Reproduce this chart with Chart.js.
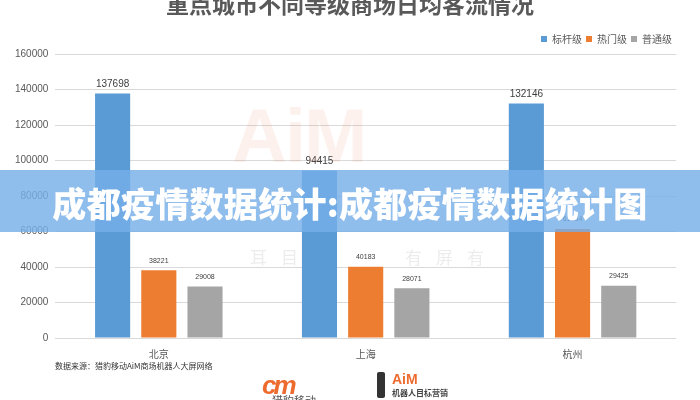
<!DOCTYPE html>
<html>
<head>
<meta charset="utf-8">
<script src="https://cdn.jsdelivr.net/npm/chart.js@4"></script>
<style>
  html, body { margin: 0; padding: 0; background: #fff; }
  #wrap { position: relative; width: 700px; height: 400px; overflow: hidden; font-family: "Noto Sans CJK SC", "Noto Sans", sans-serif; }
  #myChart { position: absolute; left: 0; top: 0; }
  .title { position: absolute; left: 0; width: 700px; top: -14px; text-align: center; font-size: 23px; font-weight: 700; color: #595959; }
  .mark { position: absolute; left: 232px; top: 92px; font: 900 76px "Liberation Sans", sans-serif; color: rgba(235, 120, 90, 0.10); letter-spacing: -2px; }
  .mark2 { position: absolute; left: 250px; top: 244px; font-size: 17px; color: rgba(120, 120, 120, 0.14); letter-spacing: 14px; }
  .banner { position: absolute; left: 0; top: 170px; width: 700px; height: 62px; background: rgba(118, 174, 232, 0.82); }
  .banner span { position: absolute; left: 0; width: 700px; top: 8px; text-align: center; color: #fff; font-size: 34px; font-weight: 900; letter-spacing: 0.3px; }
  .source { position: absolute; left: 55px; top: 360px; font-size: 8px; color: #333; }
  .cmlogo { position: absolute; left: 262px; top: 370px; font: italic 900 26px "Liberation Sans", sans-serif; color: #ee6b2f; letter-spacing: -3px; }
  .cmname { position: absolute; left: 272px; top: 392px; font-size: 11px; color: #555; }
  .robot { position: absolute; left: 377px; top: 372px; width: 8px; height: 26px; background: #333; border-radius: 2px; }
  .aim { position: absolute; left: 392px; top: 371px; font: 700 14px "Liberation Sans", sans-serif; color: #ee6b2f; }
  .aimtxt { position: absolute; left: 392px; top: 387px; font-size: 8px; font-weight: 700; color: #444; }
</style>
</head>
<body>
<div id="wrap">
  <canvas id="myChart" width="700" height="400"></canvas>
  <div class="title">重点城市不同等级商场日均客流情况</div>
  <div class="mark">AiM</div>
  <div class="mark2">耳目　　　有屏有</div>
  <div class="banner"><span>成都疫情数据统计:成都疫情数据统计图</span></div>
  <div class="source">数据来源：猎豹移动AiM商场机器人大屏网络</div>
  <div class="cmlogo">cm</div>
  <div class="cmname">猎豹移动</div>
  <div class="robot"></div>
  <div class="aim">AiM</div>
  <div class="aimtxt">机器人目标营销</div>
</div>
<script>
const labels_city = ["北京", "上海", "杭州"];
const dataBiaogan = [137698, 94415, 132146];
const dataRemen = [38221, 40183, 61454];
const dataPutong = [29008, 28071, 29425];

// numbers over the bars
const barLabels = {
  id: 'barLabels',
  afterDatasetsDraw(chart) {
    const ctx = chart.ctx;
    ctx.save();
    ctx.textAlign = 'center';
    ctx.textBaseline = 'bottom';
    chart.data.datasets.forEach(function (ds, i) {
      const meta = chart.getDatasetMeta(i);
      ctx.fillStyle = '#404040';
      ctx.font = (i == 0 ? '10px' : '7px') + ' "Liberation Sans", sans-serif';
      meta.data.forEach(function (bar, j) {
        ctx.fillText(ds.data[j], bar.x, bar.y - (i == 0 ? 4 : 6));
      });
    });
    ctx.restore();
  }
};

const data = {
  labels: labels_city,
  datasets: [
    {
      label: '标杆级',
      data: dataBiaogan,
      backgroundColor: '#5b9bd5'
    }, {
      label: '热门级',
      data: dataRemen,
      backgroundColor: '#ed7d31'
    }, {
      label: '普通级',
      data: dataPutong,
      backgroundColor: '#a5a5a5'
    }
  ]
};

const config = {
  type: 'bar',
  data: data,
  plugins: [barLabels],
  options: {
    responsive: false,
    animation: false,
    categoryPercentage: 0.67,
    barPercentage: 0.76,
    layout: {
      padding: { top: 30, right: 24, left: 8, bottom: 38 }
    },
    plugins: {
      legend: {
        position: 'top',
        align: 'end',
        labels: {
          boxWidth: 6,
          boxHeight: 6,
          padding: 4,
          color: '#595959',
          font: { size: 10, family: '"Noto Sans CJK SC", sans-serif' }
        }
      },
      tooltip: { enabled: false }
    },
    scales: {
      x: {
        grid: { display: false },
        border: { display: false },
        ticks: {
          color: '#595959',
          padding: 2,
          font: { size: 10, family: '"Noto Sans CJK SC", sans-serif' }
        }
      },
      y: {
        min: 0,
        max: 160000,
        grid: { color: '#d9d9d9', drawTicks: false },
        border: { display: false },
        ticks: {
          stepSize: 20000,
          padding: 7,
          color: '#595959',
          font: { size: 10, family: '"Liberation Sans", sans-serif' },
          callback: function (v) { return String(v); }
        }
      }
    }
  }
};

const myChart = new Chart(
  document.getElementById('myChart'),
  config
);
</script>
</body>
</html>
